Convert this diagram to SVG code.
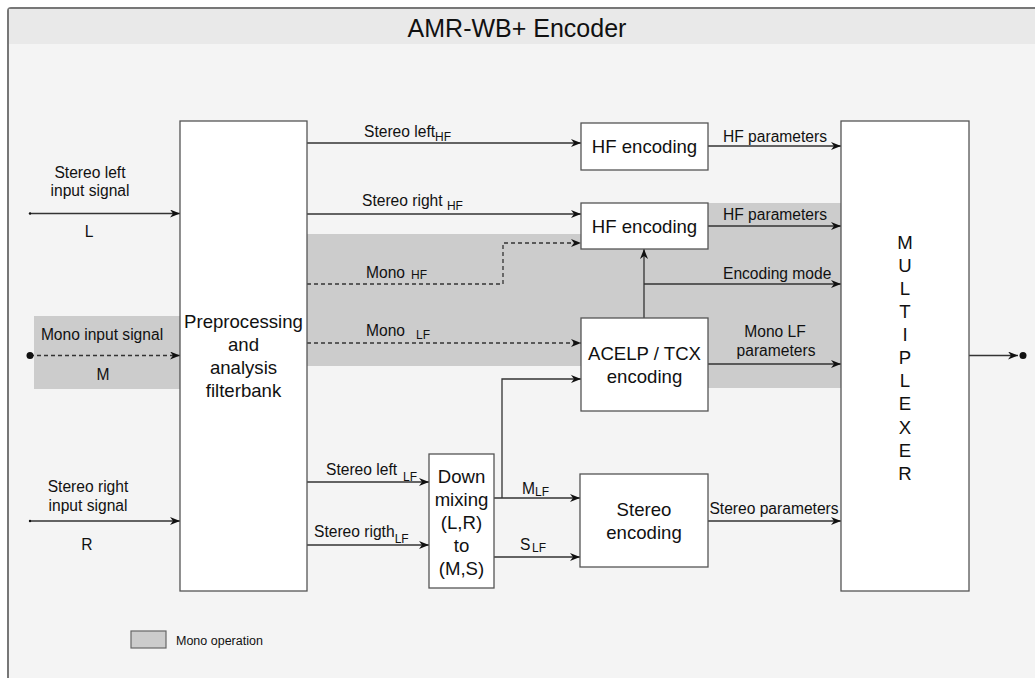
<svg xmlns="http://www.w3.org/2000/svg" width="1035" height="678" viewBox="0 0 1035 678">
<defs>
<style>
text{font-family:"Liberation Sans",Arial,sans-serif;fill:#111}
.box{fill:#fff;stroke:#555;stroke-width:1.3}
.bt{font-size:18.6px;text-anchor:middle}
.lb{font-size:15.6px}
.lc{font-size:15.6px;text-anchor:middle}
.sb{font-size:12px}
.ln{fill:none;stroke:#333;stroke-width:1.3}
.ds{fill:none;stroke:#333;stroke-width:1.3;stroke-dasharray:4 3}
.mono{fill:#ccc}
</style>
<marker id="ar" markerUnits="userSpaceOnUse" markerWidth="10" markerHeight="8" viewBox="0 0 10 8" refX="10" refY="4" orient="auto">
<path d="M0,0 L10,4 L0,8 L3,4 z" fill="#111"/>
</marker>
</defs>
<g id="frame">
<rect x="8" y="8" width="1040" height="690" rx="3" fill="#f4f4f4" stroke="#777" stroke-width="2"/>
<rect x="9" y="9" width="1030" height="35" fill="#e9e9e9"/>
<text x="517" y="37" font-size="25" text-anchor="middle">AMR-WB+ Encoder</text>
</g>
<g id="mono-regions">
<rect class="mono" x="34" y="316" width="146" height="73"/>
<rect class="mono" x="307" y="234" width="274" height="132"/>
<rect class="mono" x="581" y="234" width="260" height="154"/>
<rect class="mono" x="708" y="203" width="133" height="185"/>
</g>
<g id="connectors">
<line class="ln" x1="30" y1="213.5" x2="180" y2="213.5" marker-end="url(#ar)"/>
<circle cx="30" cy="213.5" r="1.2" fill="#111"/>
<line class="ds" x1="30" y1="355.5" x2="180" y2="355.5" marker-end="url(#ar)"/>
<circle cx="30" cy="355.5" r="3.5" fill="#111"/>
<line class="ln" x1="30" y1="521" x2="180" y2="521" marker-end="url(#ar)"/>
<circle cx="30" cy="521" r="1.2" fill="#111"/>
<line class="ln" x1="307" y1="143" x2="581" y2="143" marker-end="url(#ar)"/>
<line class="ln" x1="307" y1="214" x2="581" y2="214" marker-end="url(#ar)"/>
<polyline class="ds" points="307,284 503,284 503,243 581,243" marker-end="url(#ar)"/>
<line class="ds" x1="307" y1="343" x2="581" y2="343" marker-end="url(#ar)"/>
<line class="ln" x1="307" y1="482" x2="429" y2="482" marker-end="url(#ar)"/>
<line class="ln" x1="307" y1="545" x2="429" y2="545" marker-end="url(#ar)"/>
<line class="ln" x1="494" y1="498" x2="580" y2="498" marker-end="url(#ar)"/>
<polyline class="ln" points="502,498 502,379 581,379" marker-end="url(#ar)"/>
<line class="ln" x1="494" y1="557" x2="580" y2="557" marker-end="url(#ar)"/>
<line class="ln" x1="708" y1="146" x2="841" y2="146" marker-end="url(#ar)"/>
<line class="ln" x1="708" y1="226" x2="841" y2="226" marker-end="url(#ar)"/>
<line class="ln" x1="644" y1="318" x2="644" y2="249" marker-end="url(#ar)"/>
<line class="ln" x1="644" y1="284" x2="841" y2="284" marker-end="url(#ar)"/>
<line class="ln" x1="708" y1="364" x2="841" y2="364" marker-end="url(#ar)"/>
<line class="ln" x1="708" y1="521" x2="841" y2="521" marker-end="url(#ar)"/>
<line class="ln" x1="969" y1="355.5" x2="1018" y2="355.5" marker-end="url(#ar)"/>
<circle cx="1023" cy="355.5" r="3.5" fill="#111"/>
</g>
<g id="connector-labels">
<text class="lc" x="90" y="178">Stereo left</text>
<text class="lc" x="90" y="196">input signal</text>
<text class="lc" x="89" y="237">L</text>
<text class="lc" x="102" y="340">Mono input signal</text>
<text class="lc" x="103" y="380">M</text>
<text class="lc" x="88" y="492">Stereo right</text>
<text class="lc" x="88" y="511">input signal</text>
<text class="lc" x="87" y="550">R</text>
<text class="lb" x="364" y="137">Stereo left<tspan class="sb" dy="4">HF</tspan></text>
<text class="lb" x="362" y="206">Stereo right <tspan class="sb" dy="4">HF</tspan></text>
<text class="lb" x="366" y="278">Mono <tspan class="sb" x="411" dy="1">HF</tspan></text>
<text class="lb" x="366" y="336">Mono <tspan class="sb" x="416" dy="3">LF</tspan></text>
<text class="lb" x="326" y="475">Stereo left <tspan class="sb" x="403" dy="6">LF</tspan></text>
<text class="lb" x="314" y="537">Stereo rigth<tspan class="sb" dy="6">LF</tspan></text>
<text class="lb" x="522" y="494">M<tspan class="sb" dy="2">LF</tspan></text>
<text class="lb" x="520" y="550">S<tspan class="sb" x="532" dy="2">LF</tspan></text>
<text class="lb" x="723" y="142">HF parameters</text>
<text class="lb" x="723" y="220">HF parameters</text>
<text class="lb" x="723" y="279">Encoding mode</text>
<text class="lc" x="775" y="337">Mono LF</text>
<text class="lc" x="776" y="356">parameters</text>
<text class="lc" x="774" y="514">Stereo parameters</text>
</g>
<g id="preprocessing">
<rect class="box" x="180" y="121" width="127" height="470"/>
<text class="bt" x="243.5" y="328">Preprocessing</text>
<text class="bt" x="243.5" y="351">and</text>
<text class="bt" x="243.5" y="374">analysis</text>
<text class="bt" x="243.5" y="397">filterbank</text>
</g>
<g id="hf-encoding-left">
<rect class="box" x="581" y="123" width="127" height="47"/>
<text class="bt" x="644.5" y="153">HF encoding</text>
</g>
<g id="hf-encoding-right">
<rect class="box" x="581" y="203" width="127" height="46"/>
<text class="bt" x="644.5" y="233">HF encoding</text>
</g>
<g id="acelp-tcx">
<rect class="box" x="581" y="318" width="127" height="93"/>
<text class="bt" x="644.5" y="360">ACELP / TCX</text>
<text class="bt" x="644.5" y="383">encoding</text>
</g>
<g id="down-mixing">
<rect class="box" x="429" y="454" width="65" height="134"/>
<text class="bt" x="461.5" y="483">Down</text>
<text class="bt" x="461.5" y="506">mixing</text>
<text class="bt" x="461.5" y="529">(L,R)</text>
<text class="bt" x="461.5" y="552">to</text>
<text class="bt" x="461.5" y="575">(M,S)</text>
</g>
<g id="stereo-encoding">
<rect class="box" x="580" y="474" width="128" height="93"/>
<text class="bt" x="644" y="516">Stereo</text>
<text class="bt" x="644" y="539">encoding</text>
</g>
<g id="multiplexer">
<rect class="box" x="841" y="121" width="128" height="470"/>
<text class="bt" x="905" y="249">M</text>
<text class="bt" x="905" y="272">U</text>
<text class="bt" x="905" y="295">L</text>
<text class="bt" x="905" y="318">T</text>
<text class="bt" x="905" y="341">I</text>
<text class="bt" x="905" y="364">P</text>
<text class="bt" x="905" y="387">L</text>
<text class="bt" x="905" y="410">E</text>
<text class="bt" x="905" y="434">X</text>
<text class="bt" x="905" y="457">E</text>
<text class="bt" x="905" y="480">R</text>
</g>
<g id="legend">
<rect x="131" y="631" width="35" height="17" fill="#ccc" stroke="#666" stroke-width="1.2"/>
<text x="176" y="645" font-size="12.5">Mono operation</text>
</g>
</svg>
